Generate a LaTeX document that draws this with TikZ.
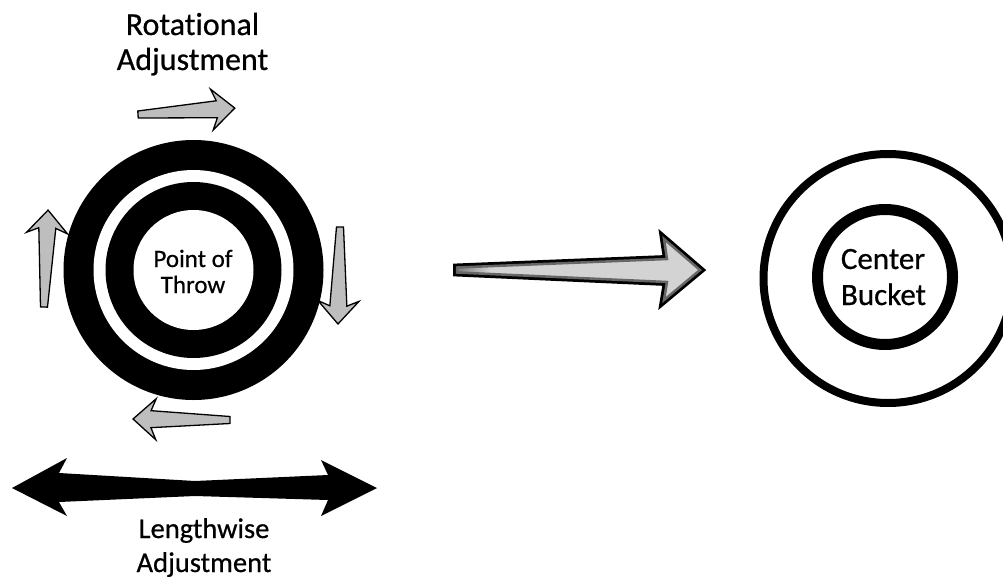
\documentclass[tikz,border=0pt]{standalone}
\usepackage{fontspec}
\setmainfont{Carlito}[Ligatures=NoCommon, FakeBold=0.6]
\definecolor{turnfill}{HTML}{BEBEBE}
\definecolor{aimdark}{HTML}{7A7A7A}
\definecolor{aimlight}{HTML}{D3D3D3}
\definecolor{aimband}{HTML}{666666}
\pgfdeclarehorizontalshading{aimshade}{100bp}{color(0bp)=(aimdark); color(25bp)=(aimdark); color(32bp)=(aimlight); color(100bp)=(aimlight)}
\begin{document}
\begin{tikzpicture}[x=1pt,y=-1pt,
  lbl/.style={anchor=base, inner sep=0pt, text=black},
  turnstroke/.style={draw=black, line width=1.3pt, fill=turnfill, line join=miter},
  turnarrow/.pic={
    \path[turnstroke] (0,3.5) -- (79,8.5) -- (74,20.5) -- (97,0)
      -- (74,-20.5) -- (79,-8.5) -- (0,-3.5) -- cycle;
  }]
\useasboundingbox (0,0) rectangle (1003,578);
\clip (0,0) rectangle (1003,578);

% throwing point: two black rings
\fill[black] (193.5,270) circle[radius=130];
\fill[white] (193.5,270) circle[radius=100];
\fill[black] (193.5,270) circle[radius=88];
\fill[white] (193.5,270) circle[radius=60];
\node[lbl, font=\fontsize{25}{26}\selectfont] (pt1) at (193,267) {Point of};
\node[lbl, font=\fontsize{25}{26}\selectfont] (pt2) at (193,293) {Throw};

% rotation arrows around the rings
\pic[rotate=3.8] at (138,114.5) {turnarrow};
\pic[rotate=-91.2] at (340,227) {turnarrow};
\pic[rotate=179.4] at (230,420) {turnarrow};
\pic[rotate=87.6] at (44,307) {turnarrow};

% label above
\node[lbl, font=\fontsize{32}{35}\selectfont] (rot1) at (192.5,35) {Rotational};
\node[lbl, font=\fontsize{32}{35}\selectfont] (rot2) at (192.5,70) {Adjustment};

% lengthwise double arrow
\fill[black] (12,488) -- (67,458) -- (59,473) -- (195,481) -- (328,475)
  -- (321,460) -- (377,488) -- (321,516) -- (328,500) -- (195,496)
  -- (59,502) -- (67,516) -- cycle;
\node[lbl, font=\fontsize{28.5}{33}\selectfont] (len1) at (204,538) {Lengthwise};
\node[lbl, font=\fontsize{28.5}{33}\selectfont] (len2) at (204,572) {Adjustment};

% aiming arrow
\path[draw=black, line width=8pt, line join=miter]
  (457,267.5) -- (667,259) -- (664,239) -- (700,270) -- (664,300)
  -- (667,282) -- (457,272.5) -- cycle;
\path[draw=aimband, line width=2.5pt, shading=aimshade, line join=miter]
  (457,267.5) -- (667,259) -- (664,239) -- (700,270) -- (664,300)
  -- (667,282) -- (457,272.5) -- cycle;

% target
\draw[line width=8pt] (888,278.5) circle[radius=124.5];
\draw[line width=11pt] (885,277) circle[radius=67.5];
\node[lbl, font=\fontsize{31}{36}\selectfont] (cb1) at (883,269) {Center};
\node[lbl, font=\fontsize{31}{36}\selectfont] (cb2) at (883.5,305) {Bucket};
\end{tikzpicture}
\end{document}
